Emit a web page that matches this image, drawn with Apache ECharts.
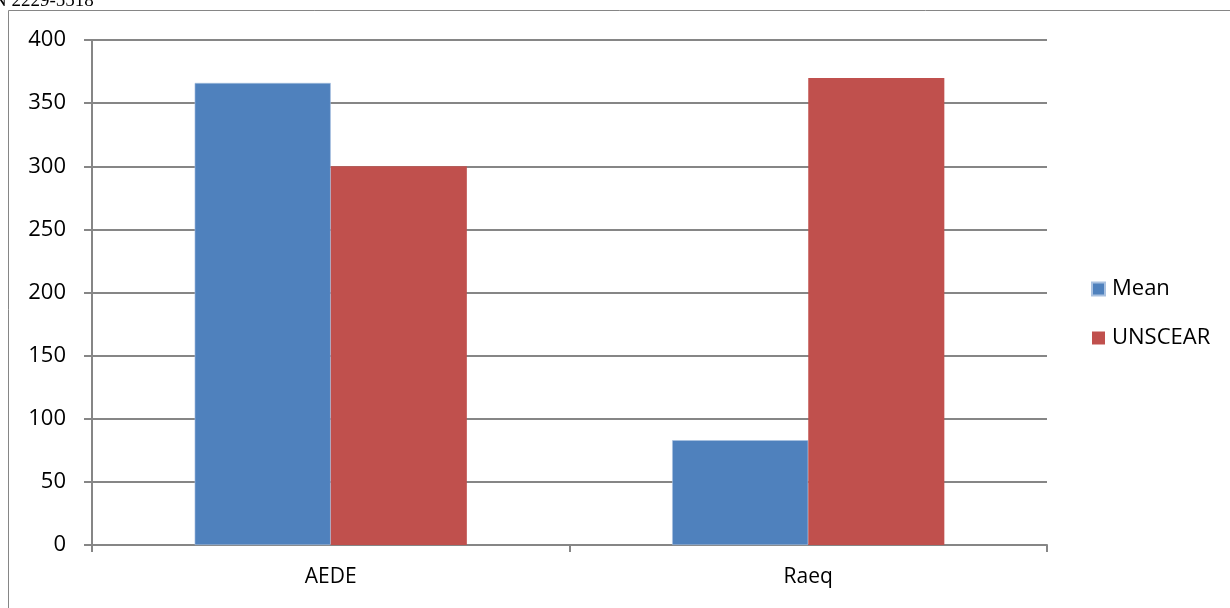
<!DOCTYPE html>
<html>
<head>
<meta charset="utf-8">
<style>
  html, body { margin: 0; padding: 0; background: #fff; }
  #chart { width: 1230px; height: 608px; }
</style>
<script src="https://cdn.jsdelivr.net/npm/echarts@6/dist/echarts.min.js"></script>
</head>
<body>
<div id="chart"></div>
<script>
// Categories and series values
const categories = ['AEDE', 'Raeq'];
const meanValues = [366, 83];
const unscearValues = [300, 370];
const yTicks = [0, 50, 100, 150, 200, 250, 300, 350, 400];

const chart = echarts.init(document.getElementById('chart'));
const font = 'Open Sans, Liberation Sans, sans-serif';
const axisGray = '#868686';

chart.setOption({
  animation: false,
  textStyle: { fontFamily: font },
  graphic: [
    {
      type: 'rect',
      shape: { x: 8.5, y: 10.5, width: 1400, height: 800 },
      style: { fill: 'none', stroke: axisGray, lineWidth: 1 },
      silent: true
    },
    {
      type: 'text',
      style: {
        x: -7, y: 11,
        text: 'N 2229-5518',
        font: '19px "Liberation Serif", serif',
        fill: '#000',
        verticalAlign: 'bottom'
      }
    }
  ],
  legend: {
    orient: 'vertical',
    left: 1086,
    top: 273,
    itemWidth: 13,
    itemHeight: 13,
    itemGap: 27,
    icon: 'rect',
    textStyle: { fontSize: 22, color: '#000', fontFamily: font, padding: [0, 0, 0, 2] },
    data: ['Mean', 'UNSCEAR']
  },
  grid: { left: 92, right: 183, top: 40, bottom: 63, containLabel: false },
  xAxis: {
    type: 'category',
    data: categories,
    axisLine: { lineStyle: { color: axisGray, width: 2 } },
    axisTick: { show: true, length: 7, lineStyle: { color: axisGray, width: 2 } },
    axisLabel: { fontSize: 21, color: '#000', margin: 22 }
  },
  yAxis: {
    type: 'value',
    min: 0,
    max: 400,
    interval: 50,
    axisLine: { show: true, lineStyle: { color: axisGray, width: 2 } },
    axisTick: { show: true, inside: false, length: 8, lineStyle: { color: axisGray, width: 2 } },
    splitLine: { lineStyle: { color: axisGray, width: 2 } },
    axisLabel: {
      fontSize: 22, color: '#000', margin: 26,
      formatter: v => (yTicks.includes(v) ? String(v) : '')
    }
  },
  series: [
    {
      name: 'Mean',
      type: 'bar',
      data: meanValues,
      barGap: '0%',
      barCategoryGap: '43%',
      itemStyle: { color: '#4f81bd', borderColor: '#a9c1e0', borderWidth: 0.6 }
    },
    {
      name: 'UNSCEAR',
      type: 'bar',
      data: unscearValues,
      barGap: '0%',
      barCategoryGap: '43%',
      itemStyle: { color: '#c0504d' }
    }
  ]
});
</script>
</body>
</html>
